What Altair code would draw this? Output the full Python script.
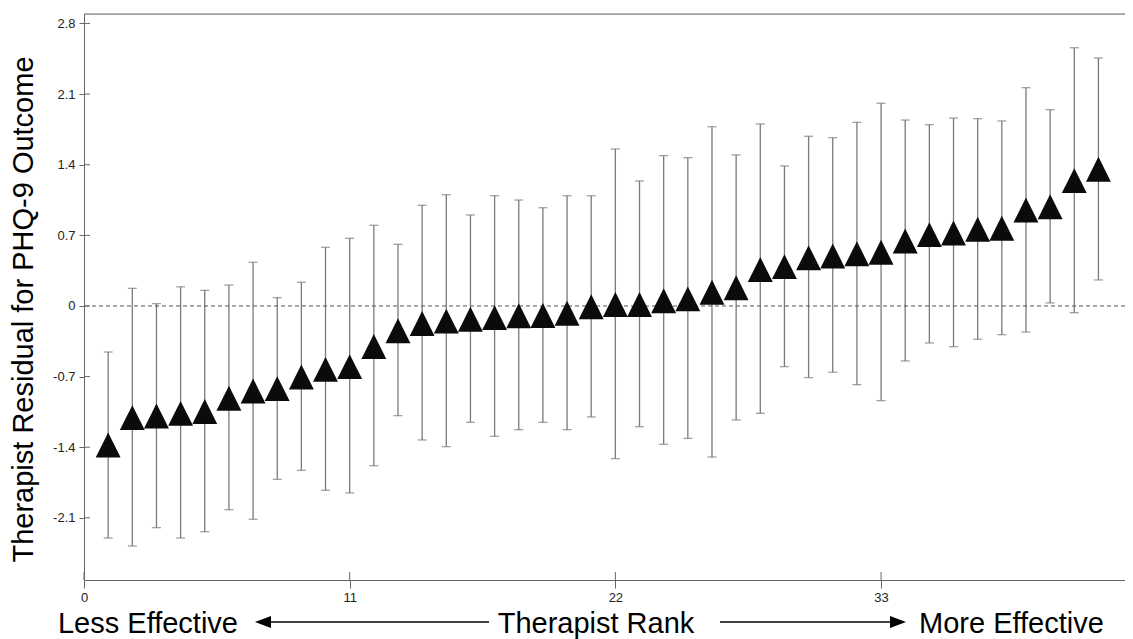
import altair as alt
import pandas as pd

# ---- data ----
rank = list(range(1, 43))
estimate = [-1.378, -1.107, -1.09, -1.064, -1.046, -0.915, -0.842, -0.819, -0.704, -0.628,
            -0.601, -0.401, -0.245, -0.173, -0.150, -0.132, -0.115, -0.097, -0.095, -0.072,
            -0.007, 0.015, 0.015, 0.052, 0.07, 0.136, 0.18, 0.362, 0.39, 0.478,
            0.496, 0.517, 0.532, 0.644, 0.707, 0.723, 0.76, 0.77, 0.951, 0.984,
            1.242, 1.355]
lower = [-2.30, -2.379, -2.197, -2.30, -2.237, -2.019, -2.114, -1.718, -1.629, -1.827,
         -1.853, -1.583, -1.087, -1.328, -1.394, -1.153, -1.292, -1.226, -1.153, -1.226,
         -1.10, -1.513, -1.196, -1.371, -1.312, -1.497, -1.13, -1.064, -0.601, -0.71,
         -0.657, -0.78, -0.938, -0.545, -0.367, -0.403, -0.33, -0.284, -0.258, 0.03,
         -0.066, 0.258]
upper = [-0.456, 0.175, 0.023, 0.19, 0.155, 0.208, 0.433, 0.083, 0.235, 0.582,
         0.671, 0.80, 0.611, 0.998, 1.103, 0.902, 1.093, 1.05, 0.974, 1.093,
         1.093, 1.556, 1.239, 1.49, 1.47, 1.777, 1.497, 1.804, 1.388, 1.682,
         1.668, 1.82, 2.009, 1.843, 1.797, 1.863, 1.857, 1.834, 2.164, 1.946,
         2.56, 2.458]
x_ticks = [0, 11, 22, 33]
y_ticks = [-2.1, -1.4, -0.7, 0, 0.7, 1.4, 2.1, 2.8]

y_title = "Therapist Residual for PHQ-9 Outcome"
x_title = "Therapist Rank"
left_label = "Less Effective"
right_label = "More Effective"

df = pd.DataFrame({"rank": rank, "est": estimate, "lo": lower, "hi": upper})
ytick_df = pd.DataFrame({"v": y_ticks})
xtick_df = pd.DataFrame({"v": x_ticks})

W, H = 1041, 566
FONT = "Liberation Sans"
AX = "#666666"
EB = "#7a7a7a"
BIG = 29

xscale = alt.Scale(domain=[0, 43.1], nice=False, zero=False)
yscale = alt.Scale(domain=[-2.716, 2.894], nice=False, zero=False)

x_enc = alt.X("rank:Q", scale=xscale,
              axis=alt.Axis(values=x_ticks, title=None, grid=False, tickSize=8,
                            labelPadding=3, labelFontSize=13, labelFont=FONT,
                            labelColor="#222222", domainColor=AX, tickColor=AX,
                            labelFlush=False))
y_axis = alt.Axis(values=y_ticks, title=y_title, grid=False, tickSize=5,
                  labelPadding=4, labelFontSize=13, labelFont=FONT,
                  labelColor="#222222", domainColor=AX, tickColor=AX,
                  labelExpr="'' + datum.value",
                  titleFont=FONT, titleFontSize=BIG, titleFontWeight="normal",
                  titleColor="#000000", titleX=-52, titleY=295,
                  titleBaseline="alphabetic", titleAlign="center", titleAngle=-90)

base = alt.Chart(df)

bars = base.mark_rule(color=EB, strokeWidth=1.3).encode(
    x=x_enc,
    y=alt.Y("lo:Q", scale=yscale, axis=y_axis),
    y2="hi:Q",
)
cap_lo = base.mark_tick(color=EB, thickness=1.3, size=9, orient="horizontal").encode(
    x="rank:Q", y="lo:Q")
cap_hi = base.mark_tick(color=EB, thickness=1.3, size=9, orient="horizontal").encode(
    x="rank:Q", y="hi:Q")

zero = alt.Chart(pd.DataFrame({"z": [0]})).mark_rule(
    color="#555555", strokeDash=[4, 3], strokeWidth=1).encode(y="z:Q")

tri = base.mark_point(shape="M0,-1L-1,1L1,1Z", filled=True, size=620,
                      color="#0b0b0b", opacity=1, strokeWidth=0).encode(
    x="rank:Q", y="est:Q")

top_border = alt.Chart(pd.DataFrame({"a": [0]})).mark_rule(
    color=AX, strokeWidth=1).encode(
    x=alt.value(0), x2=alt.value(W), y=alt.value(0))

y_in = alt.Chart(ytick_df).mark_rule(color=AX, strokeWidth=1).encode(
    y="v:Q", x=alt.value(0), x2=alt.value(6))
x_in = alt.Chart(xtick_df).mark_rule(color=AX, strokeWidth=1).encode(
    x="v:Q", y=alt.value(H), y2=alt.value(H - 8))

one = pd.DataFrame({"a": [0]})
TXT_Y = 619
ARR_Y = 608
txt_left = alt.Chart(one).mark_text(
    text=left_label, font=FONT, fontSize=BIG, align="right", baseline="alphabetic",
    color="#000000").encode(x=alt.value(154), y=alt.value(TXT_Y))
txt_mid = alt.Chart(one).mark_text(
    text=x_title, font=FONT, fontSize=BIG, align="center", baseline="alphabetic",
    color="#000000").encode(x=alt.value(512), y=alt.value(TXT_Y))
txt_right = alt.Chart(one).mark_text(
    text=right_label, font=FONT, fontSize=BIG, align="left", baseline="alphabetic",
    color="#000000").encode(x=alt.value(835), y=alt.value(TXT_Y))

arr_l = alt.Chart(one).mark_rule(color="#000000", strokeWidth=1.5).encode(
    x=alt.value(179), x2=alt.value(405), y=alt.value(ARR_Y))
arr_r = alt.Chart(one).mark_rule(color="#000000", strokeWidth=1.5).encode(
    x=alt.value(636), x2=alt.value(814), y=alt.value(ARR_Y))
head_l = alt.Chart(one).mark_point(shape="M-1,0L1,-0.75L1,0.75Z", filled=True,
                                   size=256, color="#000000", opacity=1).encode(
    x=alt.value(179), y=alt.value(ARR_Y))
head_r = alt.Chart(one).mark_point(shape="M1,0L-1,-0.75L-1,0.75Z", filled=True,
                                   size=256, color="#000000", opacity=1).encode(
    x=alt.value(814), y=alt.value(ARR_Y))

chart = alt.layer(
    bars, zero, cap_lo, cap_hi, tri, top_border, y_in, x_in,
    txt_left, txt_mid, txt_right, arr_l, arr_r, head_l, head_r
).properties(
    width=W, height=H,
    autosize=alt.AutoSizeParams(type="none"),
    padding={"left": 76, "top": 6, "right": 0, "bottom": 59},
).configure_view(stroke=None).configure(background="white")

chart.save("out.html", embed_options={"renderer": "svg", "actions": False})
